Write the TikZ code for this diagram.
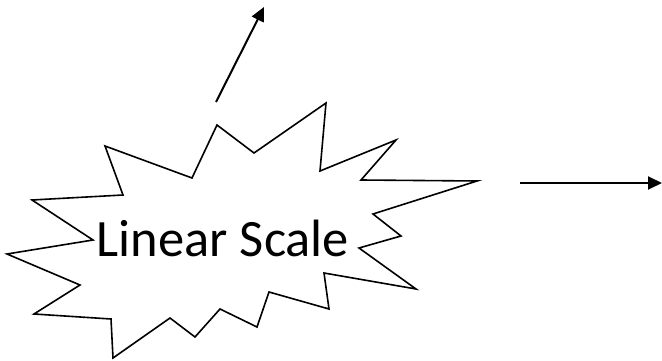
\documentclass[tikz,border=0pt]{standalone}
\usepackage{fontspec}
\setmainfont{Carlito}
\usetikzlibrary{arrows.meta}
\begin{document}
\begin{tikzpicture}[x=1pt,y=-1pt,
  burst/.style={draw=black,line width=1.6pt,line join=miter,fill=white},
  conn/.style={draw=black,line width=2pt,-{Triangle[length=14pt,width=13pt]}},
  lbl/.style={font=\fontsize{52.5}{60}\selectfont,anchor=base,inner sep=0pt}]
\useasboundingbox (0,0) rectangle (662,361);
\draw[burst] (217,125) -- (254,153) -- (326,103) -- (320,171) -- (396,140) -- (361,180)
  -- (477,181) -- (373,214) -- (401,236) -- (359,248) -- (416,289) -- (324,273)
  -- (329,309) -- (269,292) -- (257,327) -- (220,309) -- (195,337) -- (170,318)
  -- (113,358) -- (111,319) -- (34,314) -- (80,285) -- (7,254) -- (93,240)
  -- (32,200) -- (123,195) -- (105,146) -- (192,178) -- cycle;
\node[lbl] (label) at (223,256) {Linear Scale};
\coordinate (upA) at (216,102);
\coordinate (upB) at (264,7);
\coordinate (rtA) at (520,183);
\coordinate (rtB) at (662,183);
\draw[conn] (upA) -- (upB);
\draw[conn] (rtA) -- (rtB);
\end{tikzpicture}
\end{document}
